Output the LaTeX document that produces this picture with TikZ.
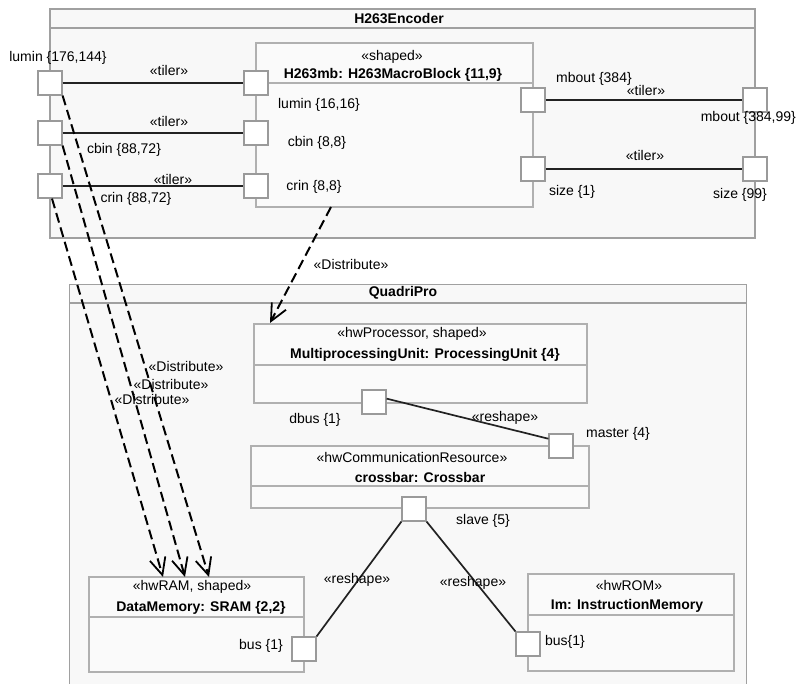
\documentclass[tikz,border=0pt]{standalone}
\usepackage{fontspec}
\setmainfont{Liberation Sans}
\usetikzlibrary{arrows.meta,calc}
\definecolor{framegray}{HTML}{A0A0A0}
\definecolor{bgfill}{HTML}{F8F8F8}
\definecolor{boxgray}{HTML}{B0B0B0}
\definecolor{boxfill}{HTML}{FAFAFA}
\definecolor{portgray}{HTML}{9A9A9A}
\definecolor{linedark}{HTML}{222222}
\begin{document}
\begin{tikzpicture}[x=1pt,y=-1pt,
  every node/.style={font=\fontsize{14}{16}\selectfont, inner sep=0pt, text=black},
  frame/.style={draw=framegray, fill=bgfill, line width=1.4pt, rectangle},
  box/.style={draw=boxgray, fill=boxfill, line width=1.2pt, rectangle},
  divider/.style={draw=boxgray, line width=1.2pt},
  fdivider/.style={draw=framegray, line width=1.2pt},
  port/.style={draw=portgray, fill=white, line width=1.2pt, minimum size=24pt, rectangle},
  conn/.style={draw=linedark, line width=1.7pt},
  dist/.style={draw=black, line width=2pt, dash pattern=on 10pt off 5pt,
    -{Straight Barb[length=17pt,width=16pt,line width=1.8pt]}},
  title/.style={font=\fontsize{14}{16}\selectfont\bfseries},
]
\clip (0,0) rectangle (796,684);
\fill[white] (0,0) rectangle (796,684);

% ---------- frames ----------
\node[frame, minimum width=705pt, minimum height=229pt] (enc) at (402.5,123.5) {};
\draw[fdivider] (50,28) -- (755,28);
\node[frame, minimum width=677pt, minimum height=430pt, anchor=north west] (qp) at (69,284) {};
\draw[fdivider] (69,303) -- (746,303);

% ---------- boxes ----------
\node[box, minimum width=277pt, minimum height=164pt] (mb) at (394.5,125) {};
\draw[divider] (256,83) -- (533,83);
\node[box, minimum width=333pt, minimum height=79pt] (mpu) at (420.5,363.5) {};
\draw[divider] (254,365) -- (587,365);
\node[box, minimum width=338pt, minimum height=62pt] (xbar) at (420,477) {};
\draw[divider] (251,486) -- (589,486);
\node[box, minimum width=215pt, minimum height=95pt] (dm) at (196.5,624.5) {};
\draw[divider] (89,617) -- (304,617);
\node[box, minimum width=206pt, minimum height=97pt] (im) at (631,622.5) {};
\draw[divider] (528,615) -- (734,615);

% ---------- ports ----------
\node[port] (pL1) at (50,83) {};
\node[port] (pL2) at (50,133) {};
\node[port] (pL3) at (50,186) {};
\node[port] (pI1) at (256,83) {};
\node[port] (pI2) at (256,133) {};
\node[port] (pI3) at (256,186) {};
\node[port] (pM1) at (533,100) {};
\node[port] (pM2) at (533,169) {};
\node[port] (pO1) at (755,100) {};
\node[port] (pO2) at (755,169) {};
\node[port] (dbus) at (374,402) {};
\node[port] (master) at (561,446) {};
\node[port] (slave) at (414,509) {};
\node[port] (dmbus) at (304,649) {};
\node[port] (imbus) at (528,644) {};

% ---------- connectors ----------
\draw[conn] (pL1.east) -- (pI1.west);
\draw[conn] (pL2.east) -- (pI2.west);
\draw[conn] (pL3.east) -- (pI3.west);
\draw[conn] (pM1.east) -- (pO1.west);
\draw[conn] (pM2.east) -- (pO2.west);
\draw[conn] (dbus.15) -- (master.150);
\draw[conn] (slave.south west) -- (dmbus.north east);
\draw[conn] (slave.south east) -- (imbus.north west);

% ---------- distribute dependencies ----------
\coordinate (mbD) at (331,207);
\coordinate (mpuD) at (270,323);
\coordinate (dm1) at (209,577);
\coordinate (dm2) at (185,577);
\coordinate (dm3) at (163,577);
\draw[dist] (mbD) -- (mpuD);
\draw[dist] (pL1.south east) -- (dm1);
\draw[dist] (pL2.south east) -- (dm2);
\draw[dist] ($(pL3.south)+(2,0)$) -- (dm3);

% ---------- titles ----------
\node[title] (encT) at (399,19) {H263Encoder};
\node[title] (qpT) at (403,293) {QuadriPro};
\node (mbS) at (392,57) {«shaped»};
\node[title] (mbN) at (393,75) {H263mb: H263MacroBlock \{11,9\}};
\node (mpuS) at (412,334) {«hwProcessor, shaped»};
\node[title] (mpuN) at (425,355) {MultiprocessingUnit: ProcessingUnit \{4\}};
\node (xbarS) at (412,457) {«hwCommunicationResource»};
\node[title] (xbarN) at (420,477) {crossbar: Crossbar};
\node (dmS) at (192,587) {«hwRAM, shaped»};
\node[title] (dmN) at (201,608) {DataMemory: SRAM \{2,2\}};
\node (imS) at (629,585) {«hwROM»};
\node[title] (imN) at (627,606) {Im: InstructionMemory};

% ---------- port labels ----------
\node (lL1) at (58,58) {lumin \{176,144\}};
\node (lL2) at (124,150) {cbin \{88,72\}};
\node (lL3) at (136,199) {crin \{88,72\}};
\node (lI1) at (319,105) {lumin \{16,16\}};
\node (lI2) at (317,143) {cbin \{8,8\}};
\node (lI3) at (314,187) {crin \{8,8\}};
\node (lM1) at (594,79) {mbout \{384\}};
\node (lM2) at (572,192) {size \{1\}};
\node[anchor=east] (lO1) at (796,118) {mbout \{384,99\}};
\node (lO2) at (740,195) {size \{99\}};
\node (ldbus) at (315,420) {dbus \{1\}};
\node (lmaster) at (618,434) {master \{4\}};
\node (lslave) at (483,521) {slave \{5\}};
\node (ldmbus) at (261,646) {bus \{1\}};
\node (limbus) at (565,642) {bus\{1\}};

% ---------- connector labels ----------
\node (t1) at (169,71) {«tiler»};
\node (t2) at (169,121) {«tiler»};
\node (t3) at (173,179) {«tiler»};
\node (t4) at (646,91) {«tiler»};
\node (t5) at (645,156) {«tiler»};
\node (d0) at (351,264) {«Distribute»};
\node (d1) at (186,366) {«Distribute»};
\node (d2) at (171,384) {«Distribute»};
\node (d3) at (152,399) {«Distribute»};
\node (r1) at (505,418) {«reshape»};
\node (r2) at (357,580) {«reshape»};
\node (r3) at (473,583) {«reshape»};
\end{tikzpicture}
\end{document}
